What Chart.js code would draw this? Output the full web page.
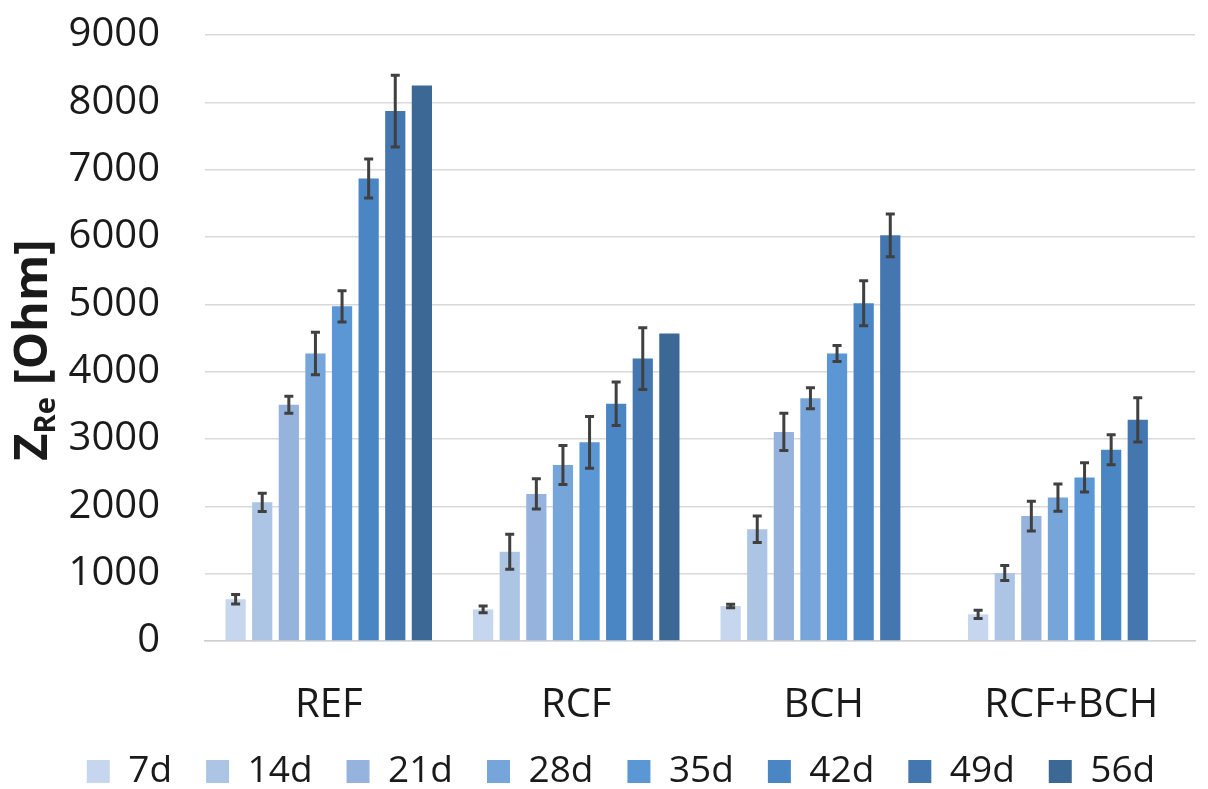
<!DOCTYPE html>
<html>
<head>
<meta charset="utf-8">
<script src="https://cdn.jsdelivr.net/npm/chart.js@4/dist/chart.umd.min.js"></script>
<style>
  html, body { margin: 0; padding: 0; background: #ffffff; }
  #wrap { width: 1208px; height: 789px; position: relative; }
</style>
</head>
<body>
<div id="wrap"><canvas id="c" width="1208" height="789"></canvas></div>
<script>
// Samples and curing ages
const categories = ['REF', 'RCF', 'BCH', 'RCF+BCH'];
const ages = ['7d', '14d', '21d', '28d', '35d', '42d', '49d', '56d'];

// Mean Z_Re [Ohm] per age, one value per sample
const z7  = [620, 470, 520, 395];
const z14 = [2060, 1325, 1660, 1010];
const z21 = [3510, 2185, 3105, 1855];
const z28 = [4270, 2615, 3605, 2130];
const z35 = [4970, 2950, 4270, 2430];
const z42 = [6870, 3525, 5015, 2840];
const z49 = [7870, 4195, 6025, 3285];
const z56 = [8250, 4565, null, null];

// Standard deviations (null = no error bar)
const sd7  = [70, 50, 25, 62];
const sd14 = [135, 260, 198, 111];
const sd21 = [126, 223, 277, 222];
const sd28 = [314, 290, 156, 202];
const sd35 = [232, 385, 119, 217];
const sd42 = [290, 323, 334, 222];
const sd49 = [532, 459, 317, 328];
const sd56 = [null, null, null, null];

// Y-axis ticks
const yMin = 0, yMax = 9000, yStep = 1000;

const colors = ['#c6d6ee', '#adc5e4', '#96b3de', '#76a5d9', '#5b96d5', '#4a86c3', '#4477b0', '#3c6896'];
const values = [z7, z14, z21, z28, z35, z42, z49, z56];
const errors = [sd7, sd14, sd21, sd28, sd35, sd42, sd49, sd56];

const FONT = "'Open Sans', 'DejaVu Sans', sans-serif";
const TEXT = '#1a1a1a';
const LEGEND_H = 18;      // height reserved for the legend row
const LEGEND_LIFT = 52;   // move legend row up inside its box

// Draws symmetric error bars on top of every bar
const errorBars = {
  id: 'errorBars',
  afterDatasetsDraw(chart) {
    const ctx = chart.ctx;
    const y = chart.scales.y;
    ctx.save();
    ctx.strokeStyle = '#404040';
    ctx.lineWidth = 3;
    chart.data.datasets.forEach((ds, di) => {
      const meta = chart.getDatasetMeta(di);
      meta.data.forEach((bar, i) => {
        const v = ds.data[i];
        const e = ds.errors[i];
        if (v == null || e == null) return;
        const top = y.getPixelForValue(v + e);
        const bot = y.getPixelForValue(v - e);
        const x = bar.x;
        ctx.beginPath();
        ctx.moveTo(x, top);
        ctx.lineTo(x, bot);
        ctx.moveTo(x - 4.5, top); ctx.lineTo(x + 4.5, top);
        ctx.moveTo(x - 4.5, bot); ctx.lineTo(x + 4.5, bot);
        ctx.stroke();
      });
    });
    ctx.restore();
  }
};

// Vertical axis title with subscript: Z_Re [Ohm]
const yTitle = {
  id: 'yTitle',
  afterDraw(chart) {
    const ctx = chart.ctx;
    const area = chart.chartArea;
    const cy = (area.top + area.bottom) / 2 + 12;
    ctx.save();
    ctx.translate(34, cy);
    ctx.rotate(-Math.PI / 2);
    ctx.fillStyle = TEXT;
    ctx.textBaseline = 'middle';
    const big = 'bold 47px ' + FONT;
    const small = 'bold 29px ' + FONT;
    ctx.font = big;
    const wZ = ctx.measureText('Z').width;
    const rest = ' [Ohm]';
    const wRest = ctx.measureText(rest).width;
    ctx.font = small;
    const wSub = ctx.measureText('Re').width;
    const total = wZ + wSub + wRest;
    let x = -total / 2;
    ctx.textAlign = 'left';
    ctx.font = big;
    ctx.fillText('Z', x, 0);
    x += wZ;
    ctx.font = small;
    ctx.fillText('Re', x, 13);
    x += wSub;
    ctx.font = big;
    ctx.fillText(rest, x, 0);
    ctx.restore();
  }
};

// Legend: wide horizontal spacing but a compact row height
const legendRow = {
  id: 'legendRow',
  afterInit(chart) {
    const lg = chart.legend;
    if (!lg) return;
    const fit = lg.fit.bind(lg);
    lg.fit = function () { fit(); this.height = LEGEND_H; };
    const draw = lg.draw.bind(lg);
    lg.draw = function () {
      this.top -= LEGEND_LIFT;
      draw();
      this.top += LEGEND_LIFT;
    };
  }
};

new Chart(document.getElementById('c'), {
  type: 'bar',
  data: {
    labels: categories,
    datasets: ages.map((a, i) => ({
      label: a,
      data: values[i],
      errors: errors[i],
      backgroundColor: colors[i],
      borderWidth: 0,
      barPercentage: 0.76,
      categoryPercentage: 0.86
    }))
  },
  options: {
    responsive: false,
    animation: false,
    layout: { padding: { left: 47, right: 13, top: 35, bottom: 0 } },
    plugins: {
      tooltip: { enabled: false },
      legend: {
        position: 'bottom',
        labels: {
          font: { family: FONT, size: 37 },
          color: TEXT,
          boxWidth: 23,
          boxHeight: 23,
          padding: 34
        }
      }
    },
    scales: {
      x: {
        grid: { display: false, drawTicks: false },
        border: { display: true, color: '#d0d0d0', width: 1.5 },
        ticks: { font: { family: FONT, size: 40 }, color: TEXT, padding: 41 }
      },
      y: {
        min: yMin,
        max: yMax,
        afterFit(scale) { scale.width = 158; },
        grid: { color: '#d9d9d9', lineWidth: 1.5, drawTicks: true, tickLength: 45, tickColor: 'rgba(0,0,0,0)' },
        border: { display: false },
        ticks: {
          stepSize: yStep,
          font: { family: FONT, size: 40 },
          color: TEXT,
          padding: 0,
          callback: (v) => String(v)
        }
      }
    }
  },
  plugins: [errorBars, yTitle, legendRow]
});
</script>
</body>
</html>
